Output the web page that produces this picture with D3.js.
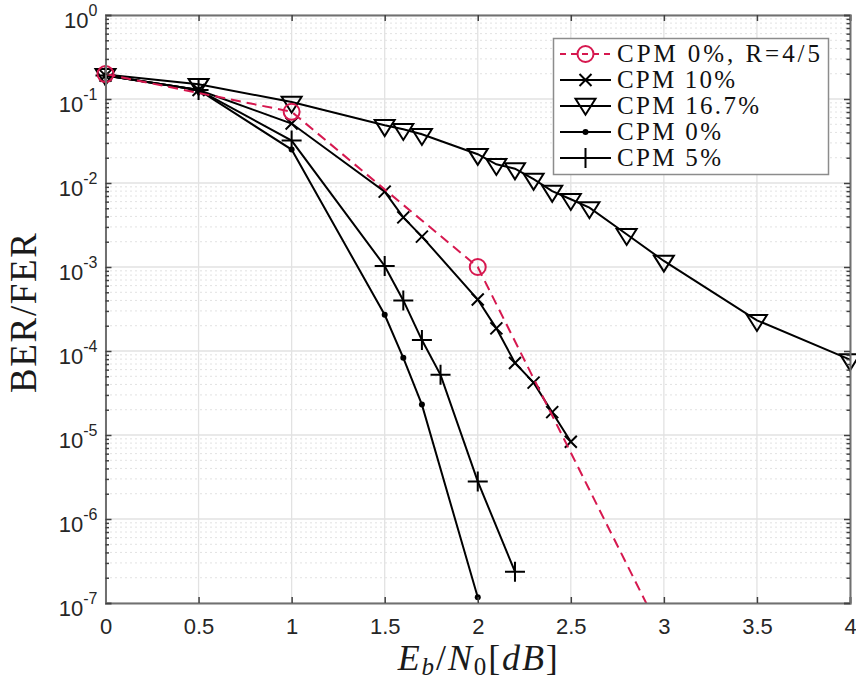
<!DOCTYPE html>
<html><head><meta charset="utf-8">
<script src="https://cdn.jsdelivr.net/npm/d3@7"></script>
<style>body{margin:0;background:#fff}</style>
</head><body>
<svg id="c" width="856" height="681"></svg>
<script>
// ---- data ----
const seriesNames = ["CPM 0%, R=4/5", "CPM 10%", "CPM 16.7%", "CPM 0%", "CPM 5%"];
const ebn0_r45  = [0, 1, 2, 3];
const ber_r45   = [0.198, 0.0704, 1.0e-3, 3.8e-8];
const ebn0_10   = [0, 0.5, 1, 1.5, 1.6, 1.7, 2, 2.1, 2.2, 2.3, 2.4, 2.5];
const ber_10    = [0.19, 0.128, 0.051, 7.9e-3, 3.9e-3, 2.3e-3, 4.1e-4, 1.86e-4, 7.2e-5, 4.2e-5, 1.87e-5, 8.3e-6];
const ebn0_167  = [0, 0.5, 1, 1.5, 1.6, 1.7, 2, 2.1, 2.2, 2.3, 2.4, 2.5, 2.6, 2.8, 3, 3.5, 4];
const ber_167   = [0.196, 0.15, 0.092, 0.0486, 0.0436, 0.038, 0.022, 0.0167, 0.0148, 0.0111, 0.0080, 0.0064, 0.0051, 0.00245, 0.00118, 2.32e-4, 7.9e-5];
const ebn0_0    = [0, 0.5, 1, 1.5, 1.6, 1.7, 2];
const ber_0     = [0.19, 0.128, 0.025, 2.7e-4, 8.3e-5, 2.3e-5, 1.17e-7];
const ebn0_5    = [0, 0.5, 1, 1.5, 1.6, 1.7, 1.8, 2, 2.2];
const ber_5     = [0.19, 0.128, 0.032, 1.03e-3, 4.0e-4, 1.35e-4, 5.2e-5, 2.8e-6, 2.36e-7];
const xTicks    = [0, 0.5, 1, 1.5, 2, 2.5, 3, 3.5, 4];
const xTickLabels = ["0", "0.5", "1", "1.5", "2", "2.5", "3", "3.5", "4"];
const yTickExps = [0, -1, -2, -3, -4, -5, -6, -7];

(function () {
// ---- layout ----
const L = 105.5, R = 850, T = 15, B = 603;
const svg = d3.select("#c");
svg.append("rect").attr("width", 856).attr("height", 681).attr("fill", "#fff");
const x = d3.scaleLinear().domain([0, 4]).range([L, R]);
const y = d3.scaleLog().domain([1e-7, 1]).range([B, T]);
const RED = "#d6184f";
const AX = "#262626";

const yMajor = yTickExps.map(e => Math.pow(10, e));
const yMinor = [];
for (let e = -7; e < 0; e++) for (let m = 2; m <= 9; m++) yMinor.push(m * Math.pow(10, e));

// ---- grid ----
const grid = svg.append("g");
grid.selectAll(".mg").data(yMinor).join("line")
  .attr("x1", L).attr("x2", R).attr("y1", d => y(d)).attr("y2", d => y(d))
  .attr("stroke", "#c4c4c4").attr("stroke-width", 1).attr("stroke-dasharray", "1,4");
grid.selectAll(".gy").data(yMajor).join("line")
  .attr("x1", L).attr("x2", R).attr("y1", d => y(d)).attr("y2", d => y(d))
  .attr("stroke", "#e2e2e2").attr("stroke-width", 1.3);
grid.selectAll(".gx").data(xTicks).join("line")
  .attr("y1", T).attr("y2", B).attr("x1", d => x(d)).attr("x2", d => x(d))
  .attr("stroke", "#e2e2e2").attr("stroke-width", 1.3);

// ---- series ----
svg.append("defs").append("clipPath").attr("id", "clip")
  .append("rect").attr("x", 0).attr("y", T).attr("width", 856).attr("height", B - T);

const series = [
  { xs: ebn0_r45, ys: ber_r45, color: RED, dash: "10,6", marker: "circle" },
  { xs: ebn0_10, ys: ber_10, color: "#000", dash: null, marker: "x" },
  { xs: ebn0_167, ys: ber_167, color: "#000", dash: null, marker: "tri" },
  { xs: ebn0_0, ys: ber_0, color: "#000", dash: null, marker: "dot" },
  { xs: ebn0_5, ys: ber_5, color: "#000", dash: null, marker: "plus" }
];
const line = d3.line().x(d => x(d[0])).y(d => y(d[1]));

function drawMarker(g, type, cx, cy, color) {
  if (type === "circle") {
    g.append("circle").attr("cx", cx).attr("cy", cy).attr("r", 8)
      .attr("fill", "none").attr("stroke", color).attr("stroke-width", 2);
  } else if (type === "x") {
    const s = 6;
    g.append("path").attr("d", `M${cx - s},${cy - s}L${cx + s},${cy + s}M${cx - s},${cy + s}L${cx + s},${cy - s}`)
      .attr("stroke", color).attr("stroke-width", 2).attr("fill", "none");
  } else if (type === "plus") {
    const s = 10;
    g.append("path").attr("d", `M${cx - s},${cy}L${cx + s},${cy}M${cx},${cy - s}L${cx},${cy + s}`)
      .attr("stroke", color).attr("stroke-width", 2).attr("fill", "none");
  } else if (type === "dot") {
    g.append("circle").attr("cx", cx).attr("cy", cy).attr("r", 3).attr("fill", color);
  } else if (type === "tri") {
    const w = 10, h = 16;
    g.append("path").attr("d", `M${cx - w},${cy - h / 3}L${cx + w},${cy - h / 3}L${cx},${cy + 2 * h / 3}Z`)
      .attr("stroke", color).attr("stroke-width", 2).attr("fill", "none").attr("stroke-linejoin", "miter");
  }
}

[...series].reverse().forEach(s => {
  const pts = s.xs.map((v, i) => [v, s.ys[i]]);
  svg.append("path").datum(pts).attr("d", line).attr("clip-path", "url(#clip)")
    .attr("fill", "none").attr("stroke", s.color).attr("stroke-width", 2)
    .attr("stroke-dasharray", s.dash);
  const mg = svg.append("g");
  pts.filter(p => p[1] >= 1e-7).forEach(p => drawMarker(mg, s.marker, x(p[0]), y(p[1]), s.color));
});

// ---- axes ----
const axG = svg.append("g");
const axBottom = axG.append("g").attr("transform", `translate(0,${B})`)
  .call(d3.axisBottom(x).tickValues(xTicks).tickSize(-6).tickPadding(15).tickFormat((d, i) => xTickLabels[i]));
const axTop = axG.append("g").attr("transform", `translate(0,${T})`)
  .call(d3.axisTop(x).tickValues(xTicks).tickSize(-6).tickFormat(""));
const axLeft = axG.append("g").attr("transform", `translate(${L},0)`)
  .call(d3.axisLeft(y).tickValues(yMajor).tickSize(-6).tickPadding(8).tickFormat(""));
const axRight = axG.append("g").attr("transform", `translate(${R},0)`)
  .call(d3.axisRight(y).tickValues(yMajor).tickSize(-6).tickFormat(""));
const axLeftMinor = axG.append("g").attr("transform", `translate(${L},0)`)
  .call(d3.axisLeft(y).tickValues(yMinor).tickSize(-3.5).tickFormat(""));
const axRightMinor = axG.append("g").attr("transform", `translate(${R},0)`)
  .call(d3.axisRight(y).tickValues(yMinor).tickSize(-3.5).tickFormat(""));
[axBottom, axTop, axLeft, axRight, axLeftMinor, axRightMinor].forEach(g => {
  g.select(".domain").attr("stroke", "#707070").attr("stroke-width", 2);
  g.selectAll(".tick line").attr("stroke", "#404040").attr("stroke-width", 1.5);
});
[axLeftMinor, axRightMinor].forEach(g => g.select(".domain").remove());
axBottom.selectAll("text").attr("font-family", "Liberation Sans, Arial, sans-serif")
  .attr("font-size", 22).attr("fill", AX);
axLeft.selectAll(".tick text").each(function (d, i) {
  const t = d3.select(this).attr("font-family", "Liberation Sans, Arial, sans-serif").attr("fill", AX)
    .attr("font-size", 22).attr("dy", "0.55em").attr("x", -8);
  t.append("tspan").text("10");
  t.append("tspan").attr("font-size", 16).attr("dy", "-0.72em").text(String(yTickExps[i]));
});

// ---- axis labels ----
svg.append("text").attr("transform", `translate(36,${(T + B) / 2 + 4}) rotate(-90)`)
  .attr("text-anchor", "middle").attr("font-family", "Liberation Serif, serif")
  .attr("font-size", 37).attr("fill", "#1a1a1a").attr("textLength", 160).attr("lengthAdjust", "spacing")
  .text("BER/FER");

const xl = svg.append("text").attr("x", (L + R) / 2).attr("y", 670).attr("text-anchor", "middle")
  .attr("font-family", "Liberation Serif, serif").attr("font-size", 36).attr("fill", "#1a1a1a")
  .attr("textLength", 160).attr("lengthAdjust", "spacing");
xl.append("tspan").attr("font-style", "italic").text("E");
xl.append("tspan").attr("font-style", "italic").attr("font-size", 25).attr("dy", 5).text("b");
xl.append("tspan").attr("dy", -5).text("/");
xl.append("tspan").attr("font-style", "italic").text("N");
xl.append("tspan").attr("font-size", 25).attr("dy", 5).text("0");
xl.append("tspan").attr("dy", -5).text("[");
xl.append("tspan").attr("font-style", "italic").text("dB");
xl.append("tspan").text("]");

// ---- legend ----
const lg = svg.append("g");
lg.append("rect").attr("x", 553.5).attr("y", 38.5).attr("width", 275).attr("height", 136)
  .attr("fill", "#fff").attr("stroke", "#8c8c8c").attr("stroke-width", 1.5);
const rowY = [54, 80, 106, 132, 158];
const legendWidths = [203, 118, 142, 104, 104];
series.forEach((s, r) => {
  const cy = rowY[r];
  lg.append("line").attr("x1", 560).attr("x2", 611).attr("y1", cy).attr("y2", cy)
    .attr("stroke", s.color).attr("stroke-width", 2).attr("stroke-dasharray", s.dash ? "6,5" : null);
  drawMarker(lg, s.marker, 585.5, cy + (s.marker === "tri" ? -2 : 0), s.color);
  lg.append("text").attr("x", 617).attr("y", cy + 8).attr("font-family", "Liberation Serif, serif")
    .attr("font-size", 25).attr("fill", "#111").attr("textLength", legendWidths[r]).attr("lengthAdjust", "spacing")
    .text(seriesNames[r]);
});
})();
</script>
</body></html>
